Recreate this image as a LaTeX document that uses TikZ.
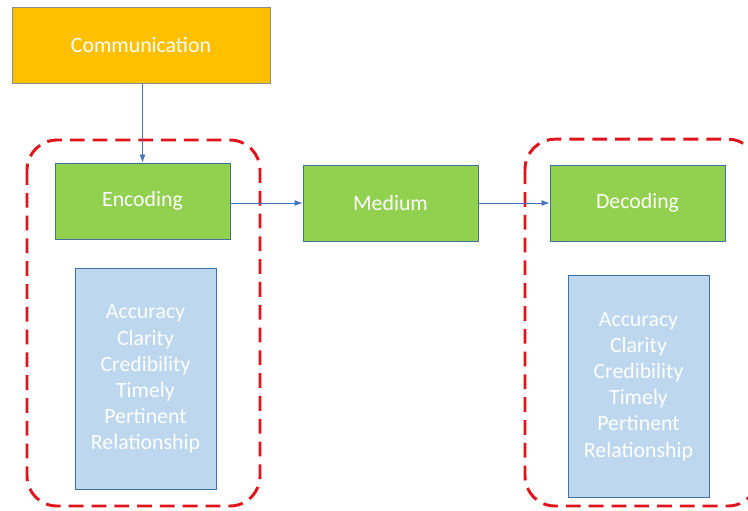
\documentclass[tikz,border=0pt]{standalone}
\usepackage{fontspec}
\setmainfont{Carlito}
\definecolor{gold}{HTML}{FFC000}
\definecolor{leaf}{HTML}{92D050}
\definecolor{sky}{HTML}{BDD7EE}
\definecolor{steel}{HTML}{41719C}
\definecolor{link}{HTML}{4472C4}
\definecolor{alert}{HTML}{E0141B}
\usepackage{tikz}
\usetikzlibrary{arrows.meta}

\begin{document}
\begin{tikzpicture}[
  topbox/.style={draw=black!45, fill=gold, line width=0.7pt,
                 minimum width=6.45cm, minimum height=1.9cm,
                 text=white, font=\fontsize{15.5}{18.5}\selectfont},
  stage/.style={draw=steel, fill=leaf, line width=0.7pt,
                minimum width=4.375cm, minimum height=1.9cm,
                text=white, font=\fontsize{15.5}{18.5}\selectfont},
  traits/.style={draw=steel, fill=sky, line width=0.7pt,
                 minimum width=3.525cm, minimum height=5.53cm,
                 align=center, text=white, inner sep=0pt,
                 font=\fontsize{15.5}{18.6}\selectfont},
  group/.style={draw=alert, line width=2.1pt, rounded corners=0.75cm,
                dash pattern=on 0.37cm off 0.2cm},
  flow/.style={draw=link, line width=0.6pt,
               -{Latex[length=0.2cm, width=0.15cm]}},
]
\clip (0,0) rectangle (18.7,-12.75);
\fill[white] (0,0) rectangle (18.7,-12.75);

\draw[group] (0.675,-3.5) rectangle (6.5,-12.65);
\draw[group] (13.125,-3.48) rectangle (18.95,-12.65);

\node[topbox] (comm) at (3.525,-1.125) {Communication};
\node[stage] (enc) at (3.5625,-5.025) {Encoding};
\node[stage] (med) at (9.7625,-5.075) {Medium};
\node[stage] (dec) at (15.9375,-5.075) {Decoding};

\node[traits] (encq) at (3.6375,-9.475) {Accuracy\\Clarity\\Credibility\\Timely\\Pertinent\\Relationship};
\node[traits] (decq) at (15.9625,-9.6625) {Accuracy\\Clarity\\Credibility\\Timely\\Pertinent\\Relationship};

\draw[flow] (enc.north |- comm.south) -- (enc.north);
\draw[flow] (enc.east |- med.west) -- (med.west);
\draw[flow] (med.east) -- (dec.west);
\end{tikzpicture}
\end{document}
